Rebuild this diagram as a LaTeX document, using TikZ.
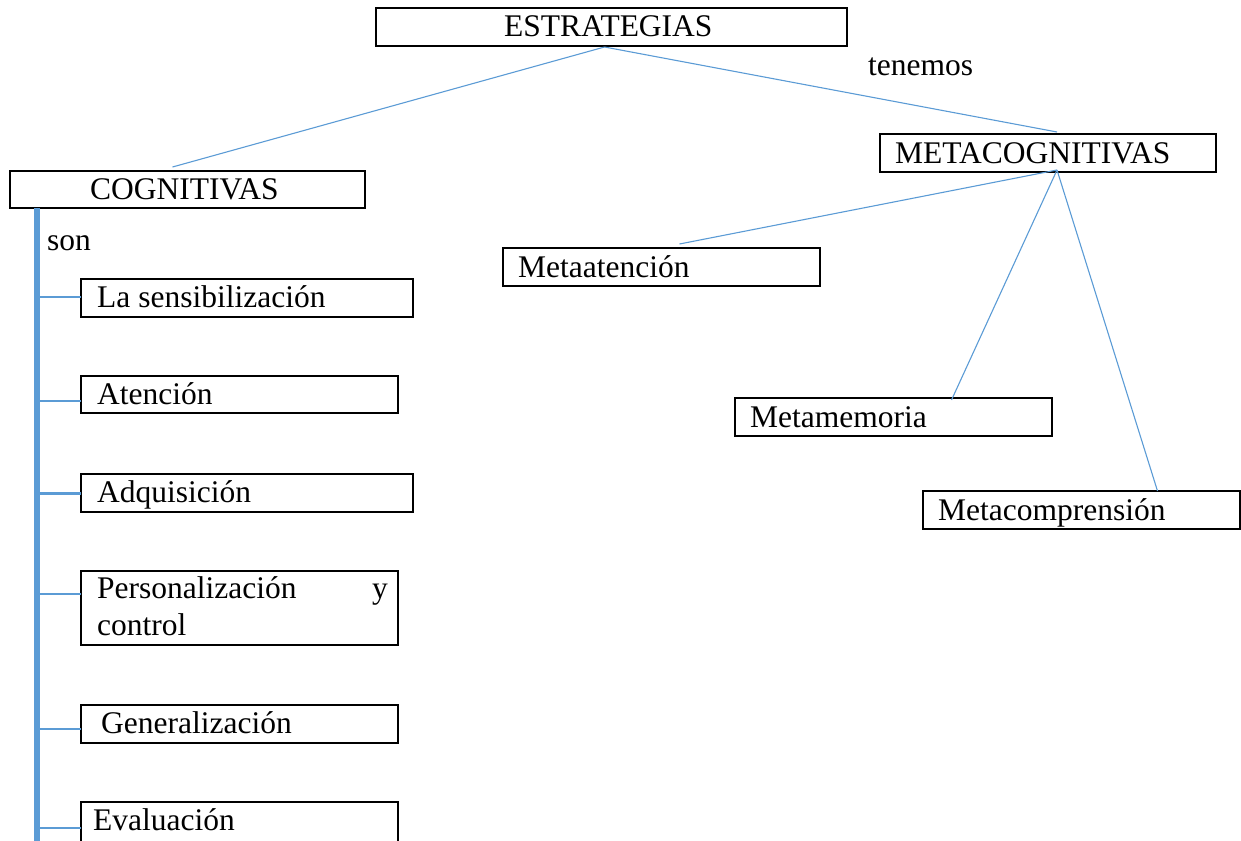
\documentclass[tikz,border=0pt]{standalone}
\usepackage{fontspec}
\setmainfont{Liberation Serif}
\definecolor{lineblue}{HTML}{5B9BD5}
\begin{document}
\begin{tikzpicture}[x=1pt,y=-1pt,
  box/.style={draw=black, line width=1.4pt, inner sep=0pt, outer sep=0pt, anchor=north west},
  txt/.style={inner sep=0pt, anchor=base west, font=\fontsize{31.5}{36}\selectfont},
  conn/.style={draw=lineblue, line width=1.1pt},
  branch/.style={draw=lineblue, line width=2pt},
  bar/.style={draw=lineblue, line width=6pt}]
\useasboundingbox (0,0) rectangle (1241,840);
% boxes
\node[box, minimum width=471pt, minimum height=38pt] (est) at (376,8) {};
\node[box, minimum width=355pt, minimum height=37pt] (cog) at (10,171) {};
\node[box, minimum width=336pt, minimum height=38pt] (meta) at (880,134) {};
\node[box, minimum width=332pt, minimum height=38pt] (sens) at (81,279) {};
\node[box, minimum width=317pt, minimum height=37pt] (aten) at (81,376) {};
\node[box, minimum width=332pt, minimum height=38pt] (adq) at (81,474) {};
\node[box, minimum width=317pt, minimum height=74pt] (pers) at (81,571) {};
\node[box, minimum width=317pt, minimum height=38pt] (gen) at (81,705) {};
\node[box, minimum width=317pt, minimum height=45pt] (eva) at (81,802) {};
\node[box, minimum width=317pt, minimum height=38pt] (mate) at (503,248) {};
\node[box, minimum width=317pt, minimum height=38pt] (mmem) at (735,398) {};
\node[box, minimum width=317pt, minimum height=38pt] (mcomp) at (923,491) {};
% texts
\node[txt] (t-est) at (504,37) {ESTRATEGIAS};
\node[txt] (t-ten) at (868,76) {tenemos};
\node[txt] (t-cog) at (90,199) {COGNITIVAS};
\node[txt] (t-meta) at (895,163) {METACOGNITIVAS};
\node[txt] (t-son) at (47,250) {son};
\node[txt] (t-sens) at (97,307) {La sensibilización};
\node[txt] (t-aten) at (97,404) {Atención};
\node[txt] (t-adq) at (97,502) {Adquisición};
\node[txt] (t-pers1) at (97,598) {Personalización};
\node[txt] (t-y) at (372,598) {y};
\node[txt] (t-pers2) at (97,635) {control};
\node[txt] (t-gen) at (101,733) {Generalización};
\node[txt] (t-eva) at (93,830) {Evaluación};
\node[txt] (t-mate) at (518,277) {Metaatención};
\node[txt] (t-mmem) at (750,427) {Metamemoria};
\node[txt] (t-mcomp) at (938,520) {Metacomprensión};
% connectors
\draw[conn] ([xshift=-7pt,yshift=-1pt]est.south) -- ([xshift=-15pt,yshift=4pt]cog.north);
\draw[conn] ([xshift=-7pt,yshift=-1pt]est.south) -- ([xshift=9pt,yshift=2pt]meta.north);
\draw[conn] ([xshift=9pt,yshift=2pt]meta.south) -- ([xshift=18pt,yshift=4pt]mate.north);
\draw[conn] ([xshift=9pt,yshift=2pt]meta.south) -- ([xshift=58pt,yshift=-2pt]mmem.north);
\draw[conn] ([xshift=9pt,yshift=2pt]meta.south) -- ([xshift=76pt]mcomp.north);
% vertical bar
\coordinate (bartop) at (37,208);
\coordinate (barbot) at (37,845);
\draw[bar] (bartop) -- (barbot);
\draw[branch] ([yshift=1pt]sens.west) -- ([yshift=1pt]sens.west -| bartop);
\draw[branch] ([yshift=-6pt]aten.west) -- ([yshift=-6pt]aten.west -| bartop);
\draw[branch, line width=3pt] ([yshift=0pt]adq.west) -- (adq.west -| bartop);
\draw[branch] ([yshift=14pt]pers.west) -- ([yshift=14pt]pers.west -| bartop);
\draw[branch] ([yshift=-5pt]gen.west) -- ([yshift=-5pt]gen.west -| bartop);
\draw[branch] ([yshift=-3pt]eva.west) -- ([yshift=-3pt]eva.west -| bartop);
\end{tikzpicture}
\end{document}
